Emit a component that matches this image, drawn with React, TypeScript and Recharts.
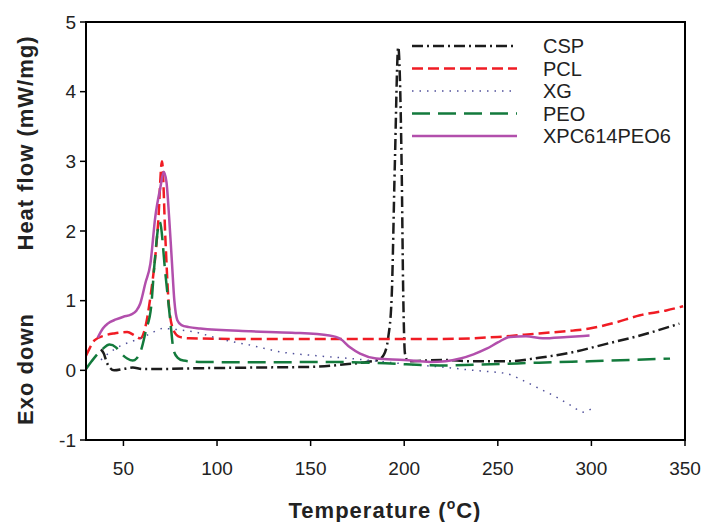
import React from 'react';
import { LineChart, Line, XAxis, YAxis, ReferenceArea } from 'recharts';

// Temperature (°C) / heat flow (mW/mg)
const cspT = [38, 39.5, 41, 43, 45, 50, 55, 60, 70, 90, 120, 150, 170, 180, 186, 189, 191.5, 193.3, 195, 196.8, 198.6, 199.5, 200.4, 202, 210, 220, 237, 255, 272, 290, 308, 326, 347];
const cspV = [0.3, 0.24, 0.12, 0.03, 0.0, 0.02, 0.04, 0.02, 0.02, 0.03, 0.04, 0.05, 0.09, 0.12, 0.15, 0.22, 0.48, 1.05, 2.97, 4.64, 2.97, 1.05, 0.24, 0.13, 0.14, 0.15, 0.13, 0.13, 0.18, 0.26, 0.38, 0.5, 0.67];

const pclT = [30, 32, 34.5, 40, 45, 52, 56, 59, 61.7, 64.4, 67, 68.5, 70.6, 72.4, 74.2, 76.8, 80, 85, 120, 180, 220, 250, 272, 290, 299, 312, 326, 340, 349];
const pclV = [0.21, 0.32, 0.43, 0.5, 0.53, 0.55, 0.5, 0.46, 0.62, 1.05, 1.63, 2.1, 3.0, 1.9, 0.96, 0.57, 0.48, 0.46, 0.45, 0.45, 0.45, 0.48, 0.53, 0.57, 0.6, 0.68, 0.79, 0.86, 0.92];

const xgT = [38, 40, 45, 50, 55, 60, 66, 71, 80, 90, 95, 105, 118, 135, 153, 171, 190, 205, 219, 237, 255, 263, 272, 281, 290, 295.5, 300];
const xgV = [0.15, 0.2, 0.3, 0.37, 0.42, 0.47, 0.55, 0.6, 0.58, 0.54, 0.5, 0.43, 0.36, 0.26, 0.21, 0.17, 0.12, 0.08, 0.05, 0.0, -0.05, -0.14, -0.26, -0.38, -0.52, -0.6, -0.55];

const peoT = [30, 33, 36.3, 39, 42.5, 46, 48.8, 52, 55, 57, 59.4, 62, 64.8, 66.5, 69.4, 72.4, 75, 76.8, 79, 82, 92, 118, 162, 190, 219, 246, 272, 299, 342];
const peoV = [0.02, 0.13, 0.24, 0.31, 0.37, 0.33, 0.24, 0.17, 0.14, 0.17, 0.29, 0.57, 0.91, 1.5, 2.13, 1.39, 0.72, 0.29, 0.18, 0.14, 0.12, 0.115, 0.12, 0.1, 0.07, 0.086, 0.11, 0.13, 0.17];

const xpcT = [36.3, 39, 41.6, 46, 50, 54, 57, 59, 61.7, 64.4, 67, 69.7, 71.5, 73, 74.4, 75.8, 77.2, 78.8, 81, 85, 91, 118, 140, 160, 166, 171, 176.4, 185, 200, 214, 222, 230, 237, 244, 250, 256.4, 265, 274, 287, 299];
const xpcV = [0.47, 0.6, 0.67, 0.73, 0.77, 0.8, 0.86, 0.96, 1.25, 1.53, 2.2, 2.62, 2.85, 2.7, 2.2, 1.6, 1.0, 0.72, 0.65, 0.62, 0.6, 0.56, 0.54, 0.5, 0.45, 0.33, 0.24, 0.17, 0.15, 0.12, 0.13, 0.17, 0.23, 0.31, 0.4, 0.48, 0.49, 0.46, 0.48, 0.5];

const xTicks = [50, 100, 150, 200, 250, 300, 350];
const yTicks = [-1, 0, 1, 2, 3, 4, 5];

const toPoints = (t: number[], v: number[]) => t.map((x, i) => ({ t: x, v: v[i] }));

const series = [
  { name: 'CSP', data: toPoints(cspT, cspV), color: '#1c1c1c', dash: '11 4 2 4', width: 2.5 },
  { name: 'PCL', data: toPoints(pclT, pclV), color: '#f01c24', dash: '11 5', width: 2.5 },
  { name: 'XG', data: toPoints(xgT, xgV), color: '#50509a', dash: '1.5 6', width: 1.5 },
  { name: 'PEO', data: toPoints(peoT, peoV), color: '#137a3c', dash: '18 8', width: 2.5 },
  { name: 'XPC614PEO6', data: toPoints(xpcT, xpcV), color: '#b24fac', dash: undefined, width: 2.5 },
];

const font = '"Liberation Sans", Arial, sans-serif';

export default function App() {
  return (
    <div style={{ position: 'absolute', left: 0, top: 0, width: 703, height: 522, background: '#fff', fontFamily: font }}>
      <LineChart width={703} height={522} margin={{ top: 22, right: 18, bottom: 0, left: 0 }}>
        <XAxis
          dataKey="t"
          type="number"
          domain={[30, 350]}
          ticks={xTicks}
          allowDataOverflow
          height={82}
          axisLine={{ stroke: '#000', strokeWidth: 2 }}
          tickLine={{ stroke: '#000', strokeWidth: 1.5 }}
          tickSize={6}
          tickMargin={16}
          tick={{ fill: '#222', fontSize: 19, fontFamily: font }}
        />
        <YAxis
          type="number"
          domain={[-1, 5]}
          ticks={yTicks}
          allowDataOverflow
          width={86}
          axisLine={{ stroke: '#000', strokeWidth: 2 }}
          tickLine={{ stroke: '#000', strokeWidth: 1.5 }}
          tickSize={6}
          tickMargin={4}
          tick={{ fill: '#222', fontSize: 19, fontFamily: font }}
        />
        <ReferenceArea x1={30} x2={350} y1={-1} y2={5} fill="none" stroke="#000" strokeWidth={2} />
        {series.map(s => (
          <Line
            key={s.name}
            data={s.data}
            dataKey="v"
            name={s.name}
            type="monotone"
            stroke={s.color}
            strokeWidth={s.width}
            strokeDasharray={s.dash}
            dot={false}
            activeDot={false}
            isAnimationActive={false}
          />
        ))}
      </LineChart>
      <svg width={703} height={522} style={{ position: 'absolute', left: 0, top: 0, pointerEvents: 'none' }}>
        {/* legend */}
        {series.map((s, i) => {
          const y = 46 + i * 22.5;
          return (
            <g key={s.name}>
              <line x1={412} x2={517} y1={y} y2={y} stroke={s.color} strokeWidth={s.width} strokeDasharray={s.dash} />
              <text x={543} y={y + 7} fontSize={20} fill="#222" fontFamily={font}>{s.name}</text>
            </g>
          );
        })}
        {/* axis titles */}
        <text x={385} y={518} textAnchor="middle" fontSize={22} fontWeight="bold" letterSpacing={1} fill="#222" fontFamily={font}>
          Temperature (<tspan dy={-9} fontSize={14}>o</tspan><tspan dy={9}>C)</tspan>
        </text>
        <text x={33} y={143} transform="rotate(-90 33 143)" textAnchor="middle" fontSize={22} fontWeight="bold" letterSpacing={1} fill="#222" fontFamily={font}>
          Heat flow (mW/mg)
        </text>
        <text x={33} y={369} transform="rotate(-90 33 369)" textAnchor="middle" fontSize={22} fontWeight="bold" letterSpacing={1} fill="#222" fontFamily={font}>
          Exo down
        </text>
      </svg>
    </div>
  );
}
